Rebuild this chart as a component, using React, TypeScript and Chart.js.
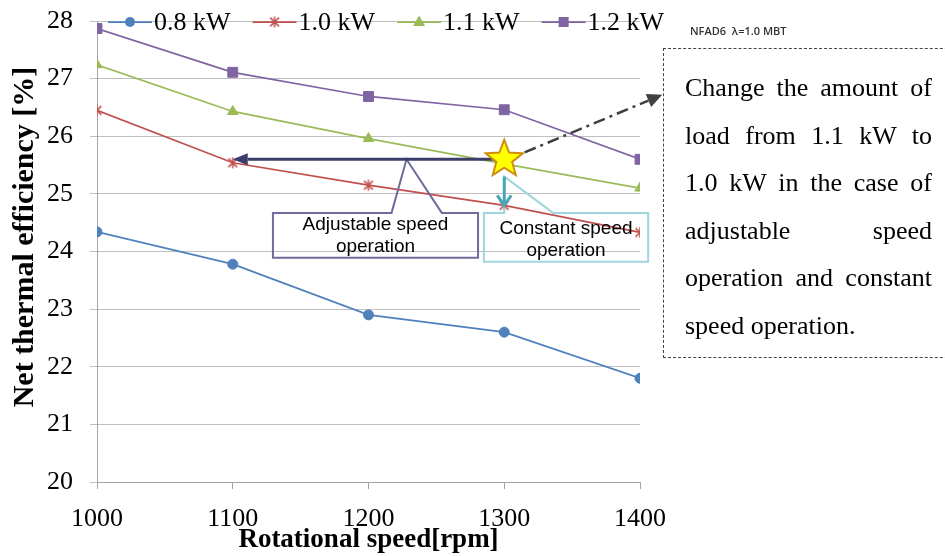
import React, { useEffect, useRef } from 'react';
import { Chart, registerables } from 'chart.js';

Chart.register(...registerables);

// ---------- data ----------
const speeds = [1000, 1100, 1200, 1300, 1400];
const eff08 = [24.34, 23.78, 22.9, 22.6, 21.8];
const eff10 = [26.45, 25.54, 25.15, 24.8, 24.33];
const eff11 = [27.24, 26.43, 25.96, 25.52, 25.1];
const eff12 = [27.87, 27.11, 26.69, 26.46, 25.6];
const seriesLabels = ['0.8 kW', '1.0 kW', '1.1 kW', '1.2 kW'];
const seriesColors = ['#4f81bd', '#c0504d', '#9bbb59', '#8064a2'];
const xTitle = 'Rotational speed[rpm]';
const yTitle = 'Net thermal efficiency [%]';
const xMin = 1000, xMax = 1400, xStep = 100;
const yMin = 20, yMax = 28, yStep = 1;
const noteLines = [
  'Change the amount of',
  'load from 1.1 kW to',
  '1.0 kW in the case of',
  'adjustable speed',
  'operation and constant',
  'speed operation.',
];
const conditionLabel = 'NFAD6  \u03bb=1.0 MBT';
const adjustableText = ['Adjustable speed', 'operation'];
const constantText = ['Constant speed', 'operation'];

const SERIF = '"Liberation Serif", "Times New Roman", serif';
const SANS = '"Liberation Sans", Arial, sans-serif';

function makeAsterisk(color: string, size = 14) {
  const c = document.createElement('canvas');
  c.width = size; c.height = size;
  const g = c.getContext('2d')!;
  const r = size / 2 - 1.5;
  const m = size / 2;
  g.strokeStyle = color; g.lineWidth = 1.5;
  g.beginPath();
  g.moveTo(m - r * 0.8, m - r * 0.8); g.lineTo(m + r * 0.8, m + r * 0.8);
  g.moveTo(m + r * 0.8, m - r * 0.8); g.lineTo(m - r * 0.8, m + r * 0.8);
  g.moveTo(m, m - r); g.lineTo(m, m + r);
  g.stroke();
  return c;
}

function drawMarker(ctx: CanvasRenderingContext2D, i: number, x: number, y: number, star: HTMLCanvasElement) {
  const col = seriesColors[i];
  ctx.save();
  ctx.fillStyle = col; ctx.strokeStyle = col; ctx.lineWidth = 1;
  ctx.beginPath();
  if (i === 0) { ctx.arc(x, y, 5, 0, Math.PI * 2); ctx.fill(); }
  else if (i === 1) { ctx.drawImage(star, x - star.width / 2, y - star.height / 2); }
  else if (i === 2) {
    ctx.moveTo(x, y - 6.5); ctx.lineTo(x + 6, y + 4); ctx.lineTo(x - 6, y + 4); ctx.closePath(); ctx.fill();
  } else { ctx.rect(x - 5, y - 5, 10, 10); ctx.fill(); }
  ctx.restore();
}

function arrow(ctx: CanvasRenderingContext2D, x1: number, y1: number, x2: number, y2: number,
  color: string, width: number, headLen: number, headW: number, dash: number[] = [], open = false) {
  const a = Math.atan2(y2 - y1, x2 - x1);
  const bx = x2 - headLen * Math.cos(a), by = y2 - headLen * Math.sin(a);
  ctx.save();
  ctx.strokeStyle = color; ctx.fillStyle = color; ctx.lineWidth = width;
  ctx.setLineDash(dash);
  ctx.beginPath(); ctx.moveTo(x1, y1); ctx.lineTo(open ? x2 : bx, open ? y2 : by); ctx.stroke();
  ctx.setLineDash([]);
  ctx.beginPath();
  const lx = bx + headW * Math.sin(a), ly = by - headW * Math.cos(a);
  const rx = bx - headW * Math.sin(a), ry = by + headW * Math.cos(a);
  if (open) {
    ctx.moveTo(lx, ly); ctx.lineTo(x2, y2); ctx.lineTo(rx, ry); ctx.stroke();
  } else {
    ctx.moveTo(x2, y2); ctx.lineTo(lx, ly); ctx.lineTo(rx, ry); ctx.closePath(); ctx.fill();
  }
  ctx.restore();
}

export default function App() {
  const ref = useRef<HTMLCanvasElement>(null);

  useEffect(() => {
    document.body.style.margin = '0';
    const asterisk = makeAsterisk(seriesColors[1]);
    const pointStyles: any[] = ['circle', asterisk, 'triangle', 'rect'];
    const radii = [5, 7, 6, 7];
    const all = [eff08, eff10, eff11, eff12];

    const overlay = {
      id: 'overlay',
      afterDatasetsDraw(chart: any) {
        const { ctx, scales: { x, y } } = chart;
        const px = (v: number) => x.getPixelForValue(v);
        const py = (v: number) => y.getPixelForValue(v);
        ctx.save();

        // Adjustable speed callout
        ctx.strokeStyle = '#6e6c9c'; ctx.lineWidth = 2;
        ctx.beginPath();
        ctx.moveTo(px(1254), py(24.67));
        ctx.lineTo(px(1280.7), py(24.67));
        ctx.lineTo(px(1280.7), py(23.89));
        ctx.lineTo(px(1129.6), py(23.89));
        ctx.lineTo(px(1129.6), py(24.67));
        ctx.lineTo(px(1217), py(24.67));
        ctx.lineTo(px(1228), py(25.6));
        ctx.closePath();
        ctx.stroke();
        ctx.fillStyle = '#000';
        ctx.font = `19px ${SANS}`;
        ctx.textAlign = 'center'; ctx.textBaseline = 'middle';
        const ax = (px(1129.6) + px(1280.7)) / 2;
        ctx.fillText(adjustableText[0], ax, py(24.67) + 12);
        ctx.fillText(adjustableText[1], ax, py(24.67) + 34);

        // Constant speed callout
        ctx.strokeStyle = '#9fd6de'; ctx.lineWidth = 2;
        ctx.beginPath();
        ctx.moveTo(px(1336), py(24.67));
        ctx.lineTo(px(1406), py(24.67));
        ctx.lineTo(px(1406), py(23.82));
        ctx.lineTo(px(1285), py(23.82));
        ctx.lineTo(px(1285), py(24.67));
        ctx.lineTo(px(1300), py(24.67));
        ctx.lineTo(px(1300), py(25.3));
        ctx.closePath();
        ctx.stroke();
        const cx = (px(1285) + px(1406)) / 2;
        ctx.fillText(constantText[0], cx, py(24.67) + 16);
        ctx.fillText(constantText[1], cx, py(24.67) + 38);

        // horizontal navy arrow (adjustable speed)
        arrow(ctx, px(1300), py(25.6), px(1100), py(25.6), '#3d3d6b', 3, 15, 6);
        // teal arrow (constant speed)
        arrow(ctx, px(1300), py(25.3), px(1300), py(24.8), '#4aa6b5', 3, 10, 7, [], true);
        // dash-dot arrow to note box
        arrow(ctx, px(1315), py(25.72), px(1416.4), py(26.72), '#404040', 2.5, 15, 7, [12, 5, 3, 5]);

        // star
        const sx = px(1300), sy = py(25.6);
        const R = 19.5, r = 8.3;
        ctx.beginPath();
        for (let k = 0; k < 10; k++) {
          const ang = -Math.PI / 2 + k * Math.PI / 5;
          const rad = k % 2 === 0 ? R : r;
          const xx = sx + rad * Math.cos(ang), yy = sy + rad * Math.sin(ang);
          if (k === 0) ctx.moveTo(xx, yy); else ctx.lineTo(xx, yy);
        }
        ctx.closePath();
        ctx.fillStyle = '#ffff00'; ctx.fill();
        ctx.strokeStyle = '#d08c10'; ctx.lineWidth = 2; ctx.stroke();
        ctx.restore();
      },
      afterDraw(chart: any) {
        const { ctx } = chart;
        ctx.save();
        // legend
        ctx.font = `26px ${SERIF}`;
        ctx.textBaseline = 'middle'; ctx.textAlign = 'left';
        let cur = 108;
        const ly = 22;
        seriesLabels.forEach((lab, i) => {
          ctx.strokeStyle = seriesColors[i]; ctx.lineWidth = 1.75;
          ctx.beginPath(); ctx.moveTo(cur, ly); ctx.lineTo(cur + 44, ly); ctx.stroke();
          drawMarker(ctx, i, cur + 22, ly, asterisk);
          cur += 46;
          ctx.fillStyle = '#000';
          ctx.fillText(lab, cur, ly + 1);
          cur += ctx.measureText(lab).width + 22;
        });
        // y title
        ctx.translate(25, 237);
        ctx.rotate(-Math.PI / 2);
        ctx.font = `bold 30px ${SERIF}`;
        ctx.textAlign = 'center';
        ctx.fillText(yTitle, 0, 0);
        ctx.restore();
      },
    };

    const chart = new Chart(ref.current!, {
      type: 'line',
      data: {
        datasets: all.map((vals, i) => ({
          label: seriesLabels[i],
          data: speeds.map((s, j) => ({ x: s, y: vals[j] })),
          borderColor: seriesColors[i],
          backgroundColor: seriesColors[i],
          borderWidth: 1.75,
          pointStyle: pointStyles[i],
          pointRadius: radii[i],
          pointBorderWidth: 1,
          tension: 0,
          fill: false,
        })),
      },
      options: {
        responsive: false,
        animation: false,
        devicePixelRatio: 1,
        layout: { padding: { top: 21, right: 305, left: 0, bottom: 0 } },
        plugins: { legend: { display: false }, tooltip: { enabled: false } },
        scales: {
          x: {
            type: 'linear', min: xMin, max: xMax,
            ticks: { stepSize: xStep, color: '#000', font: { family: SERIF, size: 26 }, padding: 15, maxRotation: 0, callback: (v: any) => String(v) },
            grid: { drawOnChartArea: false, tickLength: 7, color: '#a6a6a6' },
            border: { color: '#a6a6a6' },
            title: { display: true, text: xTitle, color: '#000', font: { family: SERIF, size: 27, weight: 'bold' }, padding: 0 },
            afterFit: (s: any) => { s.height = 74; s.paddingLeft = 0; s.paddingRight = 0; },
          },
          y: {
            min: yMin, max: yMax,
            ticks: { stepSize: yStep, color: '#000', font: { family: SERIF, size: 26 }, padding: 17, callback: (v: any) => String(v) },
            grid: { color: '#bfbfbf', tickLength: 7 },
            border: { color: '#a6a6a6' },
            afterFit: (s: any) => { s.width = 97; s.paddingTop = 0; s.paddingBottom = 0; },
          },
        },
      } as any,
      plugins: [overlay],
    });
    return () => chart.destroy();
  }, []);

  return (
    <div style={{ position: 'fixed', left: 0, top: 0, width: 945, height: 556, overflow: 'hidden', background: '#fff' }}>
      <canvas ref={ref} width={945} height={556} style={{ width: 945, height: 556, display: 'block' }} />
      <div style={{ position: 'absolute', left: 690, top: 23, fontFamily: '"Open Sans", sans-serif', fontSize: 11, fontWeight: 600, color: '#333', whiteSpace: 'pre' }}>
        {conditionLabel}
      </div>
      <div style={{ position: 'absolute', left: 663, top: 48, width: 300, height: 310, boxSizing: 'border-box', border: '1px dashed #444', borderRight: 'none' }}>
        <div style={{ position: 'absolute', left: 21, top: 15, width: 247, fontFamily: SERIF, fontSize: 26, color: '#000' }}>
          {noteLines.map((t, i) => (
            <div key={i} style={{ height: 47.5, lineHeight: '47.5px', textAlign: 'justify', textAlignLast: i === noteLines.length - 1 ? 'left' : 'justify', whiteSpace: 'nowrap' } as any}>{t}</div>
          ))}
        </div>
      </div>
    </div>
  );
}
